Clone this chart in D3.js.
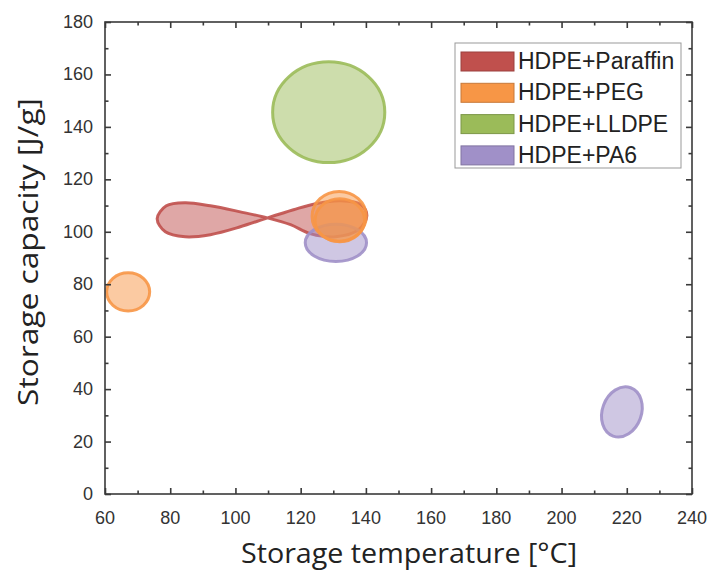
<!DOCTYPE html>
<html><head><meta charset="utf-8">
<script src="https://cdn.jsdelivr.net/npm/d3@7/dist/d3.min.js"></script>
<style>body{margin:0;background:#fff}svg{display:block}</style>
</head><body><svg id="c" width="710" height="571"></svg>
<script>
// ---- data ----
const seriesNames = ["HDPE+Paraffin", "HDPE+PEG", "HDPE+LLDPE", "HDPE+PA6"];
const seriesColors = ["#c0504d", "#f79646", "#9bbb59", "#a090c8"];
const xTickValues = [60, 80, 100, 120, 140, 160, 180, 200, 220, 240];
const yTickValues = [0, 20, 40, 60, 80, 100, 120, 140, 160, 180];
// Paraffin outline (temperature, capacity) - figure-eight region
const paraffinOutline = [
  [109.8, 105.3], [101.5, 107.6], [92.3, 109.9], [84.6, 111.1], [78.8, 109.9],
  [76.0, 105.0], [78.5, 100.0], [84.6, 98.1], [92.3, 98.9], [101.5, 101.9],
  [109.8, 105.3], [117.8, 108.4], [124.6, 110.7], [132.3, 111.8], [138.5, 110.3],
  [140.3, 106.1], [137.8, 100.8], [130.8, 98.1], [123.1, 99.2], [116.9, 102.7]
];
// ellipses: centre temperature, centre capacity, half-range temperature, half-range capacity, tilt
const pegRegions = [
  {cx: 67.1, cy: 77.1, rx: 6.6, ry: 7.3, tilt: 0},
  {cx: 131.8, cy: 105.9, rx: 8.3, ry: 9.5, tilt: 0},
  {cx: 132.0, cy: 104.4, rx: 7.6, ry: 8.2, tilt: 0}
];
const lldpeRegions = [
  {cx: 128.6, cy: 145.6, rx: 17.2, ry: 19.2, tilt: 0}
];
const pa6Regions = [
  {cx: 130.8, cy: 95.8, rx: 9.4, ry: 7.1, tilt: 0},
  {cx: 218.5, cy: 31.3, rx: 6.0, ry: 9.8, tilt: 20}
];

// ---- layout ----
const svg = d3.select("#c");
const L = 105, R = 692, T = 22, B = 494;
const x = d3.scaleLinear().domain([60, 240]).range([L, R]);
const y = d3.scaleLinear().domain([0, 180]).range([B, T]);
const frameColor = "#3a3a3a";

const plot = svg.append("g");

function drawEllipses(regions, color) {
  plot.selectAll(null).data(regions).enter().append("ellipse")
    .attr("transform", d => `translate(${x(d.cx)},${y(d.cy)}) rotate(${d.tilt})`)
    .attr("rx", d => x(d.cx + d.rx) - x(d.cx))
    .attr("ry", d => y(d.cy) - y(d.cy + d.ry))
    .attr("fill", color).attr("fill-opacity", 0.5)
    .attr("stroke", color).attr("stroke-width", 3).attr("stroke-opacity", 0.9);
}

drawEllipses(lldpeRegions, seriesColors[2]);
plot.append("path")
  .datum(paraffinOutline)
  .attr("d", d3.line().x(d => x(d[0])).y(d => y(d[1])).curve(d3.curveCatmullRomClosed.alpha(0.5)))
  .attr("fill", seriesColors[0]).attr("fill-opacity", 0.5)
  .attr("stroke", seriesColors[0]).attr("stroke-width", 3).attr("stroke-opacity", 0.9);
drawEllipses(pa6Regions, seriesColors[3]);
drawEllipses(pegRegions, seriesColors[1]);

// ---- axes (ticks inward on all four sides) ----
const major = 6, minor = 3.5;
const minorX = d3.range(70, 240, 20), minorY = d3.range(10, 180, 20);
const axB = d3.axisBottom(x).tickValues(xTickValues).tickSize(-major).tickFormat("");
const axT = d3.axisTop(x).tickValues(xTickValues).tickSize(-major).tickFormat("");
const axL = d3.axisLeft(y).tickValues(yTickValues).tickSize(-major).tickFormat("");
const axR = d3.axisRight(y).tickValues(yTickValues).tickSize(-major).tickFormat("");
const mB = d3.axisBottom(x).tickValues(minorX).tickSize(-minor).tickFormat("");
const mT = d3.axisTop(x).tickValues(minorX).tickSize(-minor).tickFormat("");
const mL = d3.axisLeft(y).tickValues(minorY).tickSize(-minor).tickFormat("");
const mR = d3.axisRight(y).tickValues(minorY).tickSize(-minor).tickFormat("");
[[axB, `0,${B}`], [mB, `0,${B}`], [axT, `0,${T}`], [mT, `0,${T}`],
 [axL, `${L},0`], [mL, `${L},0`], [axR, `${R},0`], [mR, `${R},0`]].forEach(([a, t]) => {
  const g = svg.append("g").attr("transform", `translate(${t})`).call(a);
  g.select(".domain").remove();
  g.selectAll("line").attr("stroke", frameColor).attr("stroke-width", 1.6);
});
svg.append("rect").attr("x", L).attr("y", T).attr("width", R - L).attr("height", B - T)
  .attr("fill", "none").attr("stroke", frameColor).attr("stroke-width", 1.6);

// tick labels
const tickFont = "'Liberation Sans', Arial, sans-serif";
svg.append("g").selectAll("text").data(xTickValues).enter().append("text")
  .attr("x", d => x(d)).attr("y", 524).attr("text-anchor", "middle")
  .attr("font-family", tickFont).attr("font-size", 18).attr("fill", "#333").text(d => d);
svg.append("g").selectAll("text").data(yTickValues).enter().append("text")
  .attr("x", 93).attr("y", d => y(d) + 6).attr("text-anchor", "end")
  .attr("font-family", tickFont).attr("font-size", 18).attr("fill", "#333").text(d => d);

// axis titles
const titleFont = "'Open Sans', 'Noto Sans', sans-serif";
svg.append("text").attr("x", 409).attr("y", 563).attr("text-anchor", "middle")
  .attr("font-family", titleFont).attr("font-size", 27).attr("fill", "#222")
  .attr("textLength", 336).attr("lengthAdjust", "spacingAndGlyphs")
  .text("Storage temperature [°C]");
svg.append("text").attr("transform", "translate(38,252) rotate(-90)").attr("text-anchor", "middle")
  .attr("font-family", titleFont).attr("font-size", 27).attr("fill", "#222")
  .attr("textLength", 308).attr("lengthAdjust", "spacingAndGlyphs")
  .text("Storage capacity [J/g]");

// legend
const lg = svg.append("g");
lg.append("rect").attr("x", 455).attr("y", 43).attr("width", 226).attr("height", 125)
  .attr("fill", "#fff").attr("stroke", "#999").attr("stroke-width", 1);
const rows = lg.selectAll("g.row").data(seriesNames).enter().append("g")
  .attr("transform", (d, i) => `translate(0,${61 + i * 31.3})`);
rows.append("rect").attr("x", 461).attr("y", -9).attr("width", 53).attr("height", 19)
  .attr("fill", (d, i) => seriesColors[i])
  .attr("stroke", (d, i) => d3.color(seriesColors[i]).darker(0.6)).attr("stroke-width", 1);
rows.append("text").attr("x", 518).attr("y", 8)
  .attr("font-family", tickFont).attr("font-size", 23).attr("fill", "#222").text(d => d);
</script></body></html>
